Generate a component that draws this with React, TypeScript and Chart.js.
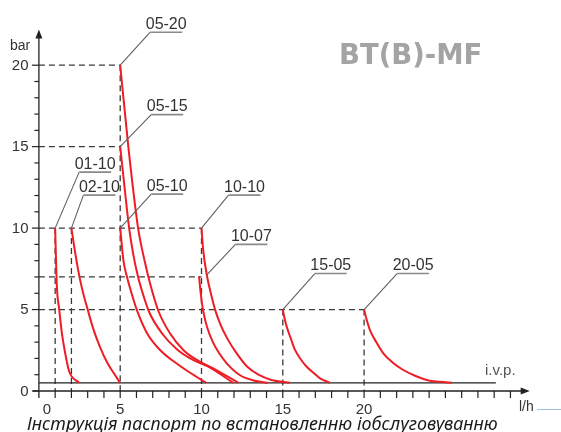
import React, { useEffect, useRef } from "react";
import { Chart, registerables } from "chart.js";

Chart.register(...registerables);

// ---- data ----
const curveNames = ["01-10", "02-10", "05-10", "05-15", "05-20", "10-07", "10-10", "15-05", "20-05"];

const c0110X = [1.0, 1.04, 1.1, 1.25, 1.42, 1.62, 1.87, 2.48];
const c0110Y = [10, 8.5, 6.5, 5.0, 3.5, 2.3, 1.18, 0.5];

const c0210X = [2.0, 2.15, 2.4, 2.65, 3.0, 3.35, 3.76, 4.2, 4.6, 5.0];
const c0210Y = [10, 9.0, 7.5, 6.3, 5.0, 3.8, 2.7, 1.75, 1.1, 0.5];

const c0510X = [5.0, 5.2, 5.42, 5.7, 6.05, 6.65, 7.45, 8.45, 9.3, 10.3];
const c0510Y = [10, 8.0, 7.0, 6.0, 4.9, 3.55, 2.52, 1.7, 1.12, 0.5];

const c0515X = [5.0, 5.3, 5.55, 5.8, 6.1, 6.4, 6.78, 7.6, 8.5, 9.45, 10.5, 11.95];
const c0515Y = [15, 12.2, 10, 8.4, 7.0, 5.95, 4.85, 3.5, 2.55, 1.92, 1.45, 0.5];

const c0520X = [5.0, 5.5, 6.1, 6.5, 6.85, 7.35, 8.06, 8.88, 9.81, 10.72, 12.27];
const c0520Y = [20, 15, 10, 8.0, 6.55, 4.91, 3.54, 2.52, 1.85, 1.39, 0.5];

const c1007X = [9.85, 9.95, 10.1, 10.35, 10.7, 11.1, 11.55, 12.4, 13.2, 14.1];
const c1007Y = [7.05, 6.0, 4.93, 3.9, 3.0, 2.3, 1.7, 0.95, 0.65, 0.5];

const c1010X = [10.0, 10.1, 10.35, 10.6, 10.85, 11.2, 11.6, 12.1, 12.8, 13.5, 14.3, 15.45];
const c1010Y = [10, 8.7, 7.0, 5.9, 4.95, 4.0, 3.2, 2.4, 1.5, 1.0, 0.68, 0.5];

const c1505X = [15.0, 15.1, 15.24, 15.5, 15.75, 16.1, 16.47, 16.9, 17.29, 17.9];
const c1505Y = [5, 4.5, 3.95, 3.2, 2.52, 1.95, 1.49, 1.1, 0.78, 0.5];

const c2005X = [20.0, 20.15, 20.36, 20.75, 21.18, 21.75, 22.41, 23.1, 23.85, 25.4];
const c2005Y = [5, 4.4, 3.74, 3.0, 2.31, 1.75, 1.29, 0.95, 0.68, 0.5];

const curvesX = [c0110X, c0210X, c0510X, c0515X, c0520X, c1007X, c1010X, c1505X, c2005X];
const curvesY = [c0110Y, c0210Y, c0510Y, c0515Y, c0520Y, c1007Y, c1010Y, c1505Y, c2005Y];

// label anchors (data coords where the leader touches the curve)
const labelText = ["05-20", "05-15", "01-10", "02-10", "05-10", "10-10", "10-07", "15-05", "20-05"];
const labelAnchorX = [5, 5, 1, 2, 5, 10, 10.3, 15, 20];
const labelAnchorY = [20, 15, 10, 10, 10, 10, 7.1, 5, 5];

// dashed guide lines
const hGuideY = [20, 15, 10, 7, 5];
const hGuideToX = [5, 5, 10, 10, 20];
const vGuideX = [1, 2, 5, 10, 15, 20];
const vGuideFromY = [10, 10, 20, 10, 5, 5];

const xTickLabels = [0, 5, 10, 15, 20];
const yTickLabels = [0, 5, 10, 15, 20];
const ivpLevel = 0.5;
const ivpEndX = 28.1;
const xAxisEnd = 30;
const yAxisEnd = 22;

const titleText = "BT(B)-MF";
const footerText = "Інструкція паспорт по встановленню іобслуговуванню";

// ---- layout (pixels) ----
const W = 561;
const H = 432;
const X0PX = 38.9;
const XPU = 16.26;
const Y0PX = 391;
const YPU = 16.29;
const leaderDX = [30, 31, 24, 12, 31, 27, 29, 32, 33];
const leaderDY = [-33, -32, -56, -33, -34, -33, -31, -36, -36];

const guidePlugin = {
  id: "guides",
  beforeDatasetsDraw(chart: any) {
    const { ctx } = chart;
    const xs = chart.scales.x;
    const ys = chart.scales.y;
    const px = (v: number) => xs.getPixelForValue(v);
    const py = (v: number) => ys.getPixelForValue(v);
    const line = (a: number, b: number, c: number, d: number) => {
      ctx.beginPath();
      ctx.moveTo(a, b);
      ctx.lineTo(c, d);
      ctx.stroke();
    };
    ctx.save();
    // dashed guides
    ctx.strokeStyle = "#3a3a3a";
    ctx.lineWidth = 1.3;
    ctx.setLineDash([6, 4]);
    hGuideY.forEach((v, i) => line(px(0), py(v), px(hGuideToX[i]), py(v)));
    vGuideX.forEach((v, i) => line(px(v), py(vGuideFromY[i]), px(v), py(0)));
    ctx.setLineDash([]);

    // axes
    ctx.strokeStyle = "#222";
    ctx.fillStyle = "#222";
    ctx.lineWidth = 1.3;
    const ax0 = px(0);
    const ay0 = py(0);
    line(ax0 - 6, ay0, px(xAxisEnd) - 2, ay0);
    line(ax0, ay0 + 7, ax0, py(yAxisEnd) + 4);
    // i.v.p. line
    line(ax0, py(ivpLevel), px(ivpEndX), py(ivpLevel));
    // arrows
    const xe = px(xAxisEnd);
    ctx.beginPath();
    ctx.moveTo(xe + 3, ay0);
    ctx.lineTo(xe - 6, ay0 - 3.5);
    ctx.lineTo(xe - 6, ay0 + 3.5);
    ctx.closePath();
    ctx.fill();
    const ye = py(yAxisEnd);
    ctx.beginPath();
    ctx.moveTo(ax0, ye - 3);
    ctx.lineTo(ax0 - 3.5, ye + 6);
    ctx.lineTo(ax0 + 3.5, ye + 6);
    ctx.closePath();
    ctx.fill();

    // ticks
    ctx.lineWidth = 1.2;
    for (let i = 1; i < xAxisEnd; i++) line(px(i), ay0, px(i), ay0 + 7);
    for (let j = 1; j <= 20; j++) {
      const major = j % 5 === 0;
      line(ax0 - (major ? 7 : 4.5), py(j), ax0, py(j));
    }
    line(ax0 - 7, ay0, ax0, ay0);

    // tick labels
    ctx.fillStyle = "#333";
    ctx.font = "15px 'Liberation Sans', Arial, sans-serif";
    ctx.textBaseline = "middle";
    ctx.textAlign = "right";
    yTickLabels.forEach((v) => ctx.fillText(String(v), 28.5, py(v) + 0.5));
    ctx.textAlign = "center";
    xTickLabels.forEach((v) => ctx.fillText(String(v), px(v) + (v === 0 ? 8 : 0), 410));

    ctx.textAlign = "left";
    ctx.textBaseline = "alphabetic";
    ctx.font = "14px 'Liberation Sans', Arial, sans-serif";
    ctx.fillText("bar", 10, 50);
    ctx.fillStyle = "#555";
    ctx.font = "15px 'Liberation Sans', Arial, sans-serif";
    ctx.fillText("i.v.p.", 485, 375);
    ctx.fillStyle = "#333";
    ctx.font = "14px 'Liberation Sans', Arial, sans-serif";
    ctx.fillText("l/h", 519, 411);
    ctx.strokeStyle = "#9fbcd9";
    ctx.lineWidth = 1;
    line(537, 409.5, 561, 409.5);

    // title
    ctx.fillStyle = "#a4a4a4";
    ctx.font = "bold 27.5px 'DejaVu Sans', sans-serif";
    ctx.fillText(titleText, 339, 63.5);
    ctx.restore();
  },
  afterDatasetsDraw(chart: any) {
    const { ctx } = chart;
    const xs = chart.scales.x;
    const ys = chart.scales.y;
    ctx.save();
    labelText.forEach((t, i) => {
      const ax = xs.getPixelForValue(labelAnchorX[i]);
      const ay = ys.getPixelForValue(labelAnchorY[i]);
      const ex = ax + leaderDX[i];
      const ey = ay + leaderDY[i];
      ctx.strokeStyle = "#606060";
      ctx.lineWidth = 1.1;
      ctx.beginPath();
      ctx.moveTo(ax, ay);
      ctx.lineTo(ex, ey);
      ctx.stroke();
      ctx.strokeStyle = "#8a8a8a";
      ctx.lineWidth = 1.6;
      ctx.beginPath();
      ctx.moveTo(ex, ey);
      ctx.lineTo(ex + 32, ey);
      ctx.stroke();
      ctx.fillStyle = "#333";
      ctx.font = "16px 'Liberation Sans', Arial, sans-serif";
      ctx.textAlign = "center";
      ctx.textBaseline = "alphabetic";
      ctx.fillText(t, ex + 16, ey - 3.5);
    });
    // footer
    ctx.fillStyle = "#1a1a1a";
    ctx.textAlign = "left";
    ctx.font = "italic 16px 'Noto Sans', sans-serif";
    const w = ctx.measureText(footerText).width;
    const fs = (16 * 471) / w;
    ctx.font = `italic ${fs.toFixed(2)}px 'Noto Sans', sans-serif`;
    ctx.fillText(footerText, 27, 429.5);
    ctx.restore();
  },
};

export default function App() {
  const ref = useRef<HTMLCanvasElement | null>(null);
  useEffect(() => {
    if (!ref.current) return;
    const datasets = curveNames.map((n, i) => ({
      label: n,
      data: curvesX[i].map((x, k) => ({ x, y: curvesY[i][k] })),
      borderColor: "#ee1d25",
      borderWidth: 2,
      pointRadius: 0,
      fill: false,
      cubicInterpolationMode: "monotone" as const,
    }));
    const chart = new Chart(ref.current, {
      type: "line",
      data: { datasets },
      options: {
        animation: false,
        responsive: false,
        devicePixelRatio: 1,
        layout: { padding: 0 },
        plugins: { legend: { display: false }, tooltip: { enabled: false }, title: { display: false } },
        scales: {
          x: { type: "linear", display: false, min: -X0PX / XPU, max: (W - X0PX) / XPU },
          y: { type: "linear", display: false, min: -(H - Y0PX) / YPU, max: Y0PX / YPU },
        },
      },
      plugins: [guidePlugin],
    });
    return () => chart.destroy();
  }, []);
  return (
    <div style={{ position: "absolute", left: 0, top: 0, width: W, height: H, background: "#fff" }}>
      <canvas ref={ref} width={W} height={H} style={{ width: W, height: H, display: "block" }} />
    </div>
  );
}
